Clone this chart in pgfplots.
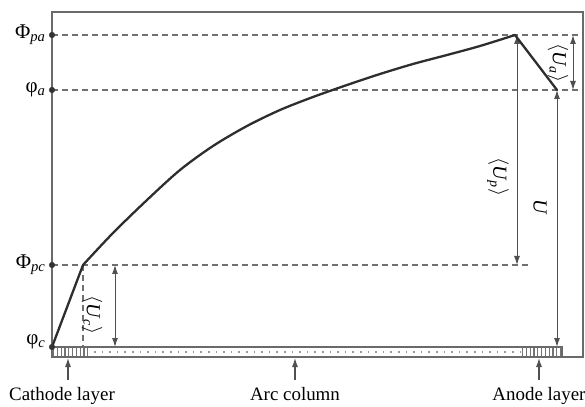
\documentclass[border=0pt]{standalone}
\usepackage{fontspec}
\setmainfont{Liberation Serif}
\usepackage{pgfplots}
\pgfplotsset{compat=1.18}
\usetikzlibrary{arrows.meta}
\definecolor{frame}{HTML}{6A6A6A}
\definecolor{curvec}{HTML}{2E2E2E}
\definecolor{dashc}{HTML}{707070}
\definecolor{arr}{HTML}{505050}
\tikzset{
  dl/.style={dashc, line width=1.3bp, dash pattern=on 6bp off 4bp},
  da/.style={arr, line width=1bp, {Latex[length=9bp,width=6bp]}-{Latex[length=9bp,width=6bp]}},
  ua/.style={arr, line width=1.1bp, -{Latex[length=9bp,width=6bp]}},
}
\begin{document}
\begin{tikzpicture}[font=\fontsize{19}{22}\selectfont]
\begin{axis}[
  scale only axis, width=531bp, height=345bp,
  xmin=0, xmax=531, ymin=0, ymax=345,
  xtick=\empty, ytick=\empty,
  axis line style={draw=frame, line width=1.7bp},
  clip=false,
]
% electrode strip
\addplot[black!55, line width=8bp, dash pattern=on 1.2bp off 2.6bp] coordinates {(1,5)(37,5)};
\addplot[black!55, line width=8bp, dash pattern=on 1.2bp off 2.6bp] coordinates {(470,5)(511,5)};
\addplot[black!40, line width=1.6bp, dash pattern=on 1.6bp off 6bp] coordinates {(42,5)(468,5)};
\addplot[frame, line width=1.8bp] coordinates {(0,10)(510,10)(510,0)};
% dashed levels
\addplot[dl] coordinates {(0,322)(529,322)};
\addplot[dl] coordinates {(0,267)(529,267)};
\addplot[dl] coordinates {(0,92)(476,92)};
\addplot[dl] coordinates {(31,92)(31,10)};
% double arrows
\addplot[da] coordinates {(63,92)(63,10)};
\addplot[da] coordinates {(465,322)(465,92)};
\addplot[da] coordinates {(505,267)(505,10)};
\addplot[da] coordinates {(521,322)(521,267)};
% bottom arrows
\addplot[ua] coordinates {(16,-23)(16,-1)};
\addplot[ua] coordinates {(243,-23)(243,-1)};
\addplot[ua] coordinates {(487,-23)(487,-1)};
% potential curve
\addplot[curvec, line width=2.3bp, line cap=round] coordinates {(0,10)(31,92)};
\addplot[curvec, line width=2.3bp, smooth, tension=0.5, line cap=round] coordinates {
(31,92)(61,124)(95,157)(128,187)(161,211)(195,231)(228,247)(261,260)
(295,272)(328,283)(361,293)(395,302)(428,311)(463,322)};
\addplot[curvec, line width=2.3bp, line cap=round] coordinates {(463,322)(505,267)};
% dots on the axis
\addplot[only marks, mark=*, mark size=2.8bp, black!80] coordinates {(0,322)(0,267)(0,92)(0,10)};
% labels
\node[anchor=east, font=\fontsize{21}{24}\selectfont] at (axis cs:-3,322) {Φ\textsubscript{\textit{pa}}};
\node[anchor=east, font=\fontsize{21}{24}\selectfont] at (axis cs:-3,267) {φ\textsubscript{\textit{a}}};
\node[anchor=east, font=\fontsize{21}{24}\selectfont] at (axis cs:-3,92) {Φ\textsubscript{\textit{pc}}};
\node[anchor=east, font=\fontsize{21}{24}\selectfont] at (axis cs:-3,15) {φ\textsubscript{\textit{c}}};
\node[rotate=-90, font=\fontsize{20}{23}\selectfont] at (axis cs:40,42) {$\langle$\textit{U}\textsubscript{\textit{c}}$\rangle$};
\node[rotate=-90, font=\fontsize{20}{23}\selectfont] at (axis cs:446,180) {$\langle$\textit{U}\textsubscript{\textit{p}}$\rangle$};
\node[rotate=-90, font=\fontsize{20}{23}\selectfont] at (axis cs:488,150) {\textit{U}};
\node[rotate=-90, font=\fontsize{20}{23}\selectfont] at (axis cs:506,294) {$\langle$\textit{U}\textsubscript{\textit{a}}$\rangle$};
\node[anchor=base] at (axis cs:10,-43) {Cathode layer};
\node[anchor=base] at (axis cs:243,-43) {Arc column};
\node[anchor=base] at (axis cs:487,-43) {Anode layer};
\coordinate (bl) at (axis cs:-52,-50);
\coordinate (tr) at (axis cs:533,357);
\end{axis}
\pgfresetboundingbox
\path[use as bounding box] (bl) rectangle (tr);
\end{tikzpicture}
\end{document}
